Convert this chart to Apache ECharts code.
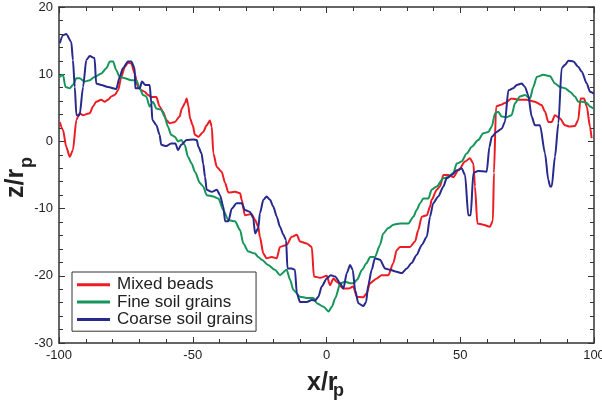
<!DOCTYPE html>
<html>
<head>
<meta charset="utf-8">
<script src="https://cdn.jsdelivr.net/npm/echarts@6/dist/echarts.min.js"></script>
<style>html,body{margin:0;padding:0;background:#fff;overflow:hidden}#c{width:602px;height:403px}</style>
</head>
<body>
<div id="c"></div>
<script>
const seriesNames = ['Mixed beads', 'Fine soil grains', 'Coarse soil grains'];
const xTicks = [-100, -50, 0, 50, 100];
const yTicks = [-30, -20, -10, 0, 10, 20];

const mixedBeads = [
[-99.7,2.9],[-98.5,1.7],[-97.3,-0.8],[-96.0,-2.3],[-94.8,-1.3],[-93.5,3.2],[-92.3,4.2],[-91.0,3.9],[-88.5,4.2],[-87.3,5.2],
[-86.1,5.9],[-84.2,6.2],[-82.9,5.9],[-81.7,6.2],[-80.4,6.7],[-79.2,6.9],[-77.9,7.6],[-76.7,9.6],[-75.4,11.1],[-74.2,11.7],
[-73.0,11.6],[-71.7,10.1],[-70.5,8.1],[-69.2,7.6],[-68.0,7.4],[-66.7,6.9],[-65.5,6.6],[-63.6,6.6],[-62.4,5.2],[-61.1,4.4],
[-59.9,3.2],[-58.6,2.7],[-56.7,2.9],[-54.9,3.7],[-54.1,4.9],[-52.9,5.7],[-52.3,6.4],[-51.7,5.4],[-51.0,3.4],[-50.0,2.4],
[-49.2,1.0],[-47.9,0.7],[-46.1,1.4],[-44.8,2.4],[-43.6,3.1],[-42.9,2.2],[-42.3,-1.8],[-41.0,-3.8],[-39.2,-4.5],[-37.9,-6.2],
[-36.7,-7.6],[-34.2,-7.5],[-32.3,-7.7],[-31.7,-8.7],[-30.5,-11.0],[-28.0,-10.8],[-26.7,-11.7],[-25.5,-12.7],[-24.9,-14.2],[-23.6,-16.7],
[-22.4,-17.4],[-20.5,-17.2],[-18.6,-17.4],[-17.4,-15.7],[-14.9,-15.4],[-13.0,-14.2],[-11.1,-13.9],[-9.9,-14.9],[-7.4,-15.2],[-5.5,-15.7],
[-4.7,-20.1],[-2.4,-20.3],[0.1,-20.0],[1.3,-21.4],[2.6,-20.4],[3.8,-20.9],[6.3,-21.9],[8.2,-21.9],[10.0,-21.6],[11.3,-23.1],
[13.8,-23.2],[15.0,-22.6],[16.3,-21.1],[18.8,-20.4],[20.6,-19.9],[23.1,-19.9],[25.0,-18.1],[26.2,-16.2],[27.5,-15.7],[31.2,-15.7],
[33.1,-14.9],[34.3,-13.2],[35.6,-11.2],[37.5,-11.0],[38.7,-9.7],[39.3,-8.7],[41.2,-7.2],[42.4,-6.7],[43.7,-5.0],[45.5,-5.0],
[47.4,-5.3],[49.3,-4.3],[51.8,-3.0],[53.6,-2.5],[54.9,-3.3],[55.5,-6.7],[56.4,-12.2],[58.6,-12.4],[61.1,-12.7],[62.2,-11.8],
[62.6,-4.7],[63.4,5.2],[64.9,5.4],[66.7,5.7],[69.2,6.4],[71.7,6.2],[74.8,6.2],[77.9,5.9],[80.4,5.4],[81.7,4.4],
[82.9,2.9],[84.2,2.9],[85.4,3.9],[87.3,3.4],[89.2,2.4],[91.0,2.2],[92.9,2.3],[94.1,3.2],[95.0,6.4],[96.3,6.4],
[97.3,5.2],[98.5,2.2],[99.1,0.5]
];

const fineSoil = [
[-99.7,9.6],[-98.5,9.9],[-97.6,8.1],[-96.0,7.9],[-94.8,8.4],[-93.5,9.4],[-92.3,9.4],[-90.4,8.9],[-88.5,9.1],[-86.7,9.6],
[-84.2,10.1],[-82.3,10.9],[-81.0,11.9],[-79.8,11.9],[-78.6,10.6],[-77.3,9.6],[-75.4,9.4],[-73.0,9.1],[-71.1,9.1],[-69.8,7.9],
[-68.6,6.9],[-67.4,6.7],[-66.1,5.2],[-64.9,5.9],[-63.6,4.9],[-61.8,4.7],[-60.5,3.7],[-59.3,2.2],[-58.1,1.0],[-56.7,0.7],
[-55.5,0.0],[-54.3,0.2],[-53.0,-0.5],[-51.8,-2.3],[-50.4,-3.3],[-49.2,-4.5],[-47.3,-6.2],[-46.1,-6.7],[-44.8,-8.0],[-42.3,-8.2],
[-40.4,-8.5],[-38.6,-10.2],[-36.7,-11.7],[-34.2,-11.9],[-32.3,-13.2],[-31.1,-15.2],[-29.2,-16.4],[-26.7,-16.7],[-25.5,-17.2],[-24.2,-17.6],
[-21.8,-18.4],[-19.3,-19.1],[-17.4,-19.9],[-14.9,-19.1],[-13.6,-20.6],[-12.4,-22.1],[-9.9,-23.1],[-7.4,-23.3],[-4.9,-23.3],[-3.6,-24.1],
[-1.1,-24.6],[0.8,-25.3],[2.0,-24.6],[3.3,-23.3],[5.2,-21.1],[7.0,-20.9],[8.9,-21.1],[10.2,-21.1],[11.4,-20.6],[13.3,-19.1],
[15.0,-18.1],[16.3,-17.2],[18.1,-17.2],[20.0,-15.4],[21.2,-13.7],[23.1,-12.9],[25.0,-12.4],[27.5,-12.2],[30.6,-12.2],[32.5,-11.2],
[33.7,-10.2],[35.0,-9.2],[36.2,-8.5],[38.1,-8.5],[39.3,-7.2],[41.2,-6.7],[43.7,-5.5],[45.5,-5.3],[47.4,-4.7],[48.7,-3.3],
[50.5,-3.0],[52.4,-1.8],[54.3,-0.8],[56.7,0.2],[58.6,1.2],[60.5,1.4],[61.8,2.2],[63.0,4.2],[64.2,4.4],[65.5,3.7],
[67.4,3.6],[69.2,3.9],[70.5,5.7],[72.3,6.7],[74.2,6.9],[76.1,6.4],[77.3,8.1],[78.6,9.6],[81.0,9.9],[83.6,9.7],
[85.4,8.6],[87.3,8.1],[89.2,7.9],[91.0,7.4],[92.9,6.7],[94.1,5.9],[96.0,5.9],[97.3,5.7],[98.5,5.2],[99.7,4.9]
];

const coarseSoil = [
[-99.7,14.6],[-98.5,15.8],[-97.3,16.0],[-95.4,14.8],[-94.8,12.1],[-94.1,8.1],[-93.5,3.9],[-92.3,3.9],[-91.0,8.1],[-89.8,12.1],
[-88.5,12.7],[-86.7,12.4],[-86.1,8.6],[-84.2,8.4],[-81.7,8.1],[-78.6,7.8],[-77.3,9.6],[-76.1,10.9],[-74.2,11.9],[-73.0,11.9],
[-71.7,10.9],[-71.5,7.9],[-69.8,7.9],[-69.0,8.9],[-67.7,8.4],[-66.1,8.4],[-65.5,5.7],[-65.1,3.2],[-63.6,2.4],[-62.4,1.0],
[-61.8,-0.5],[-59.9,-0.7],[-58.1,-0.3],[-56.5,-0.3],[-55.5,-1.3],[-54.3,-0.5],[-52.3,0.2],[-49.8,0.3],[-48.5,0.2],[-47.9,-0.8],
[-46.7,-1.8],[-46.1,-3.3],[-45.4,-5.3],[-44.8,-7.2],[-42.9,-7.5],[-41.0,-7.2],[-39.8,-8.0],[-38.6,-9.7],[-37.9,-11.9],[-36.7,-11.9],
[-35.4,-10.0],[-33.6,-9.2],[-31.7,-9.2],[-30.5,-10.2],[-28.6,-10.5],[-27.4,-11.4],[-26.7,-13.7],[-25.5,-12.9],[-24.9,-10.7],[-23.6,-8.7],
[-22.4,-8.2],[-21.1,-8.7],[-19.9,-9.7],[-18.6,-11.2],[-17.4,-12.7],[-16.1,-13.9],[-15.1,-14.7],[-14.6,-18.9],[-13.0,-18.9],[-11.8,-19.1],
[-11.1,-22.6],[-9.9,-23.9],[-7.4,-23.9],[-5.5,-23.6],[-4.3,-23.7],[-3.0,-23.1],[-1.8,-21.6],[0.1,-20.4],[1.6,-19.9],[3.2,-20.1],
[5.1,-21.1],[6.3,-21.9],[7.6,-19.6],[8.8,-18.4],[9.8,-19.1],[10.7,-22.1],[11.9,-24.1],[13.8,-24.5],[14.8,-23.9],[15.6,-21.4],
[16.9,-19.1],[18.1,-17.4],[20.0,-17.6],[21.9,-18.9],[23.7,-19.1],[26.2,-19.4],[28.1,-19.6],[30.0,-18.9],[31.8,-18.1],[33.7,-16.9],
[35.6,-15.4],[37.5,-14.2],[38.7,-11.2],[39.9,-9.2],[41.8,-8.2],[43.7,-6.7],[44.9,-5.5],[46.8,-5.0],[48.7,-4.3],[50.5,-4.0],
[51.8,-5.0],[53.0,-11.0],[53.9,-11.0],[54.9,-4.7],[56.7,-4.4],[59.9,-4.5],[60.9,-0.8],[61.8,0.7],[63.6,1.4],[65.5,1.9],
[66.7,2.9],[68.0,7.6],[69.8,7.9],[71.1,8.4],[73.0,8.6],[74.2,8.1],[75.4,6.9],[76.7,3.7],[77.9,2.4],[79.8,2.4],
[81.7,-1.8],[82.9,-5.7],[83.6,-6.7],[84.2,-6.7],[85.4,-2.3],[86.7,2.7],[87.9,10.9],[89.2,11.4],[90.4,12.0],[92.3,11.9],
[94.1,11.1],[95.4,10.4],[97.3,8.6],[98.5,7.4],[100,7.1]
];

const colors = ['#ec1c24', '#15955a', '#27298c'];
const FONT = '"Liberation Sans", Arial, Helvetica, sans-serif';
const axisLine = { show: true, onZero: false, lineStyle: { color: '#333', width: 1.5 } };

function xAxisDef(pos, showLabel) {
  return {
    type: 'value', position: pos, min: xTicks[0], max: xTicks[xTicks.length - 1], interval: 50,
    axisLine: axisLine,
    axisTick: { show: true, inside: true, length: 6, lineStyle: { color: '#333', width: 1 } },
    minorTick: { show: true, splitNumber: 5, length: 4, lineStyle: { color: '#333', width: 1 } },
    splitLine: { show: false },
    axisLabel: { show: showLabel, margin: 6, fontSize: 13, color: '#222', fontFamily: FONT,
      formatter: v => String(v) }
  };
}
function yAxisDef(pos, showLabel) {
  return {
    type: 'value', position: pos, min: yTicks[0], max: yTicks[yTicks.length - 1], interval: 10,
    axisLine: axisLine,
    axisTick: { show: true, inside: true, length: 6, lineStyle: { color: '#333', width: 1 } },
    minorTick: { show: true, splitNumber: 5, length: 4, lineStyle: { color: '#333', width: 1 } },
    splitLine: { show: false },
    axisLabel: { show: showLabel, margin: 6, fontSize: 13, color: '#222', fontFamily: FONT }
  };
}

const chart = echarts.init(document.getElementById('c'), null, { renderer: 'canvas' });
const dataSets = [mixedBeads, fineSoil, coarseSoil];
chart.setOption({
  animation: false,
  backgroundColor: '#fff',
  grid: { left: 59, right: 8, top: 7, bottom: 60, containLabel: false, outerBoundsMode: 'none' },
  xAxis: [xAxisDef('bottom', true), xAxisDef('top', false)],
  yAxis: [yAxisDef('left', true), yAxisDef('right', false)],
  legend: {
    orient: 'vertical', left: 72, top: 272,
    data: seriesNames,
    icon: 'rect', itemWidth: 33, itemHeight: 3, itemGap: 0,
    padding: [4, 3, 3, 5],
    borderColor: '#333', borderWidth: 1, backgroundColor: '#fff',
    textStyle: { fontSize: 17, color: '#222', fontFamily: FONT, lineHeight: 17.4, padding: [0, 0, 0, 2] }
  },
  series: dataSets.map((d, i) => ({
    name: seriesNames[i], type: 'line', data: d,
    xAxisIndex: 0, yAxisIndex: 0,
    showSymbol: false, symbol: 'none',
    smooth: 0.25, smoothMonotone: 'x',
    lineStyle: { color: colors[i], width: 2 },
    itemStyle: { color: colors[i] }
  })),
  graphic: [
    { type: 'text', left: 307, top: 371, style: { text: 'x/r', font: 'bold 25px ' + FONT, fill: '#222' } },
    { type: 'text', left: 333, top: 382, style: { text: 'p', font: 'bold 18px ' + FONT, fill: '#222' } },
    { type: 'text', x: 4, y: 198, rotation: Math.PI / 2, style: { text: 'z/r', font: 'bold 25px ' + FONT, fill: '#222', textAlign: 'left', textVerticalAlign: 'top' } },
    { type: 'text', x: 18, y: 168, rotation: Math.PI / 2, style: { text: 'p', font: 'bold 18px ' + FONT, fill: '#222', textAlign: 'left', textVerticalAlign: 'top' } }
  ]
});
</script>
</body>
</html>
